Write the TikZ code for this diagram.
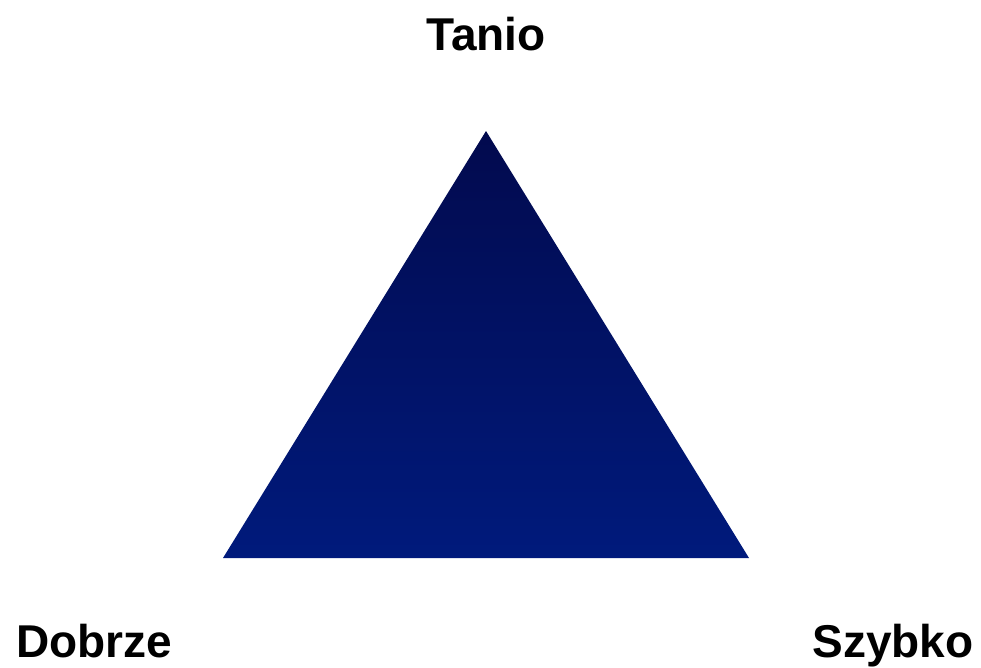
\documentclass[tikz,border=0pt]{standalone}
\usepackage{fontspec}
\setmainfont{Liberation Sans}
\definecolor{navytop}{HTML}{020A4E}
\definecolor{navybot}{HTML}{001A7C}
\tikzset{lbl/.style={anchor=base, inner sep=0pt, font=\fontsize{46}{50}\selectfont\bfseries, text=black}}
\begin{document}
\begin{tikzpicture}[x=1pt,y=-1pt]
\useasboundingbox (0,0) rectangle (981,667);
\coordinate (apex) at (486,131);
\coordinate (bl) at (223,558);
\coordinate (br) at (749,558);
\shade[top color=navytop, bottom color=navybot] (apex) -- (br) -- (bl) -- cycle;
\node[lbl] (tanio) at (486,50) {Tanio};
\node[lbl] (dobrze) at (94,657) {Dobrze};
\node[lbl] (szybko) at (893,657) {Szybko};
\end{tikzpicture}
\end{document}
